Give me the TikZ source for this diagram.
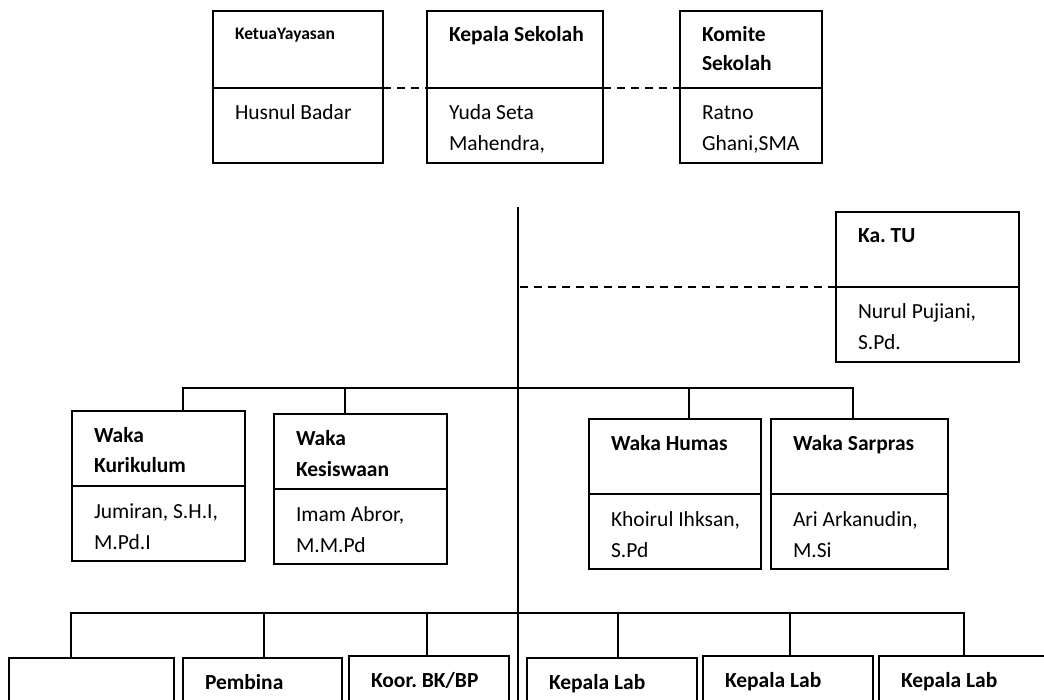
\documentclass[tikz,border=0pt]{standalone}
\usepackage{fontspec}
\setmainfont{Carlito}
\usepackage{tikz}
\usetikzlibrary{positioning}

\begin{document}
\frenchspacing
\begin{tikzpicture}[
  x=1pt, y=-1pt,
  font=\fontsize{21.5}{31}\selectfont,
  judul/.style={draw, line width=1.9pt, anchor=north west, align=flush left,
              inner xsep=22pt, inner ysep=0pt, outer sep=0pt,
              text width=#1, text height=31pt, text depth=44pt,
              font=\fontsize{21.5}{31}\selectfont\bfseries},
  nama/.style={draw, line width=1.9pt, align=flush left,
              inner xsep=22pt, inner ysep=0pt, outer sep=0pt,
              text width=#1, text height=32pt, text depth=43pt},
  garis/.style={line width=1.9pt},
  putus/.style={line width=1.9pt, dash pattern=on 8pt off 6pt},
]
\useasboundingbox (0,0) rectangle (1044,700);
\clip (0,0) rectangle (1044,700);

% baris atas
\node[judul=126pt, font=\fontsize{17.5}{24}\selectfont\bfseries, text height=29pt, text depth=48pt] (ketua) at (213,11) {KetuaYayasan};
\node[nama=126pt, below=0pt of ketua] (ketua-n) {Husnul Badar};

\node[judul=132pt, text depth=46pt] (kepsek) at (427,11) {\mbox{Kepala Sekolah}};
\node[nama=132pt, below=0pt of kepsek] (kepsek-n) {Yuda Seta\\Mahendra,};

\node[judul=98pt, text depth=46pt, font=\fontsize{21.5}{29}\selectfont\bfseries] (komite) at (680,11) {Komite\\Sekolah};
\node[nama=98pt, below=0pt of komite] (komite-n) {Ratno\\Ghani,SMA};

\draw[putus] (ketua.south east) -- (kepsek.south west);
\draw[putus] (kepsek.south east) -- (komite.south west);

% garis pokok
\coordinate (puncak) at (518,207);
\coordinate (dasar) at (518,705);
\draw[garis] (puncak) -- (dasar);

\node[judul=139pt] (katu) at (836,212) {Ka. TU};
\node[nama=139pt, below=0pt of katu] (katu-n) {Nurul Pujiani,\\S.Pd.};
\draw[putus] (katu.south west) -- (puncak |- katu.south west);

% wakil kepala
\node[judul=129pt] (kurikulum) at (72,411) {Waka\\Kurikulum};
\node[nama=129pt, below=0pt of kurikulum] (kurikulum-n) {Jumiran, S.H.I,\\M.Pd.I};

\node[judul=129pt] (kesiswaan) at (274,414) {Waka\\Kesiswaan};
\node[nama=129pt, below=0pt of kesiswaan] (kesiswaan-n) {Imam Abror,\\M.M.Pd};

\node[judul=128pt] (humas) at (589,419) {Waka Humas};
\node[nama=128pt, below=0pt of humas] (humas-n) {\mbox{Khoirul Ihksan,}\\S.Pd};

\node[judul=133pt] (sarpras) at (771,419) {Waka Sarpras};
\node[nama=133pt, below=0pt of sarpras] (sarpras-n) {Ari Arkanudin,\\M.Si};

\draw[garis] ([xshift=24.5pt]kurikulum.north) -- ++(0,-23) -| ([xshift=-6.5pt]sarpras.north);
\draw[garis] ([xshift=-15.5pt]kesiswaan.north) -- ++(0,-26);
\draw[garis] ([xshift=14pt]humas.north) -- ++(0,-31);

% baris bawah
\node[judul=121pt] (kosong) at (9,658) {};
\node[judul=115pt] (pembina) at (183,658) {Pembina};
\node[judul=116pt] (koorbk) at (349,656) {Koor. BK/BP};
\node[judul=126pt] (lab1) at (527,658) {Kepala Lab};
\node[judul=126pt] (lab2) at (703,656) {Kepala Lab};
\node[judul=126pt] (lab3) at (879,656) {Kepala Lab};

\draw[garis] ([xshift=-20.5pt]kosong.north) -- ++(0,-45) -| (lab3.north);
\draw[garis] ([xshift=1.5pt]pembina.north) -- ++(0,-45);
\draw[garis] ([xshift=-2pt]koorbk.north) -- ++(0,-43);
\draw[garis] ([xshift=6pt]lab1.north) -- ++(0,-45);
\draw[garis] ([xshift=2pt]lab2.north) -- ++(0,-43);

\end{tikzpicture}
\end{document}
